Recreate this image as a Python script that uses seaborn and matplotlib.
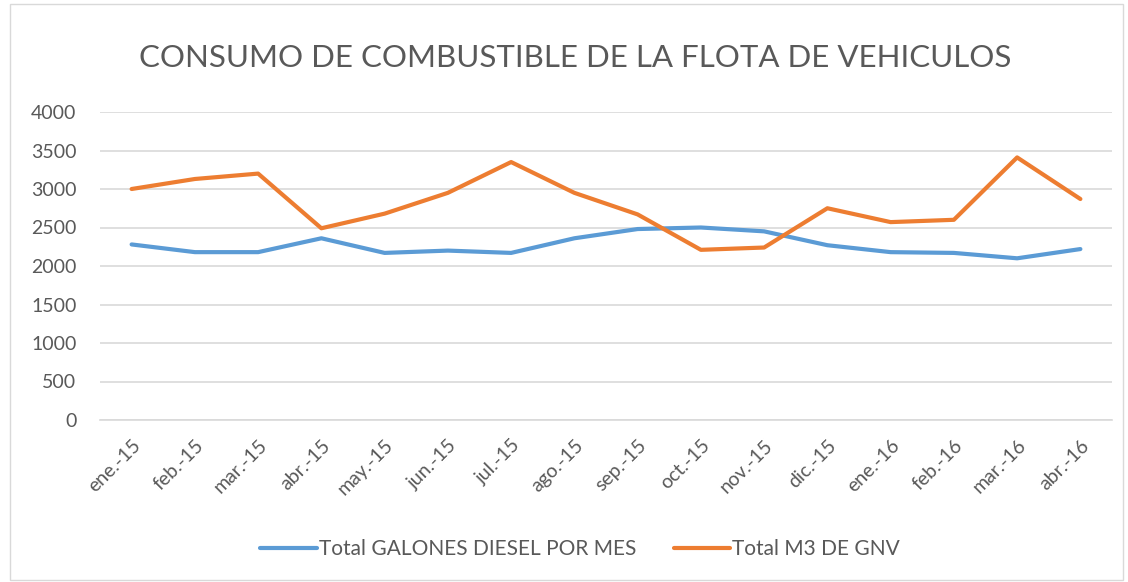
import pandas as pd
import matplotlib
matplotlib.use("Agg")
import matplotlib.pyplot as plt
import seaborn as sns
from matplotlib.patches import Rectangle
from matplotlib.ticker import FixedLocator

# Datos
meses = ['ene.-15', 'feb.-15', 'mar.-15', 'abr.-15', 'may.-15', 'jun.-15',
         'jul.-15', 'ago.-15', 'sep.-15', 'oct.-15', 'nov.-15', 'dic.-15',
         'ene.-16', 'feb.-16', 'mar.-16', 'abr.-16']
diesel = [2280, 2180, 2180, 2360, 2170, 2200, 2170, 2360,
          2480, 2500, 2450, 2270, 2180, 2170, 2100, 2220]
gnv = [3000, 3130, 3200, 2490, 2680, 2950, 3350, 2950,
       2670, 2210, 2240, 2750, 2570, 2600, 3410, 2870]
serie_diesel = 'Total GALONES DIESEL POR MES'
serie_gnv = 'Total M3 DE GNV'

COLORES = {serie_diesel: '#5B9BD5', serie_gnv: '#ED7D31'}
GRIS_TEXTO = '#595959'
GRIS_LINEA = '#D9D9D9'

df = pd.DataFrame({
    'mes': meses * 2,
    'valor': diesel + gnv,
    'serie': [serie_diesel] * len(meses) + [serie_gnv] * len(meses),
})

sns.set_style('white')
plt.rcParams['font.family'] = ['Lato', 'DejaVu Sans']

fig = plt.figure(figsize=(11.28, 5.82), dpi=100)
ax = fig.add_axes([100 / 1128, 1 - 420 / 582, 1012 / 1128, 308 / 582])

sns.lineplot(data=df, x='mes', y='valor', hue='serie', palette=COLORES,
             linewidth=3, ax=ax, sort=False, legend=False)

ax.set_xlim(-0.5, len(meses) - 0.5)
ax.set_ylim(0, 4000)
ax.set_yticks(range(0, 4001, 500))
ax.yaxis.grid(True, color=GRIS_LINEA, linewidth=1.2)
ax.set_axisbelow(True)
ax.set_xlabel('')
ax.set_ylabel('')

# marcas del eje x entre categorias (estilo Excel)
ax.set_xticks(range(len(meses)))
ax.set_xticklabels(meses, rotation=45, ha='right', rotation_mode='anchor')
ax.xaxis.set_minor_locator(FixedLocator([i - 0.5 for i in range(len(meses) + 1)]))
ax.tick_params(axis='x', which='major', length=0, pad=12, labelsize=14, labelcolor=GRIS_TEXTO)
ax.tick_params(axis='x', which='minor', length=6, color=GRIS_LINEA, width=1.2)
ax.tick_params(axis='y', length=0, pad=17, labelsize=14, labelcolor=GRIS_TEXTO)

for lado in ['top', 'right', 'left']:
    ax.spines[lado].set_visible(False)
ax.spines['bottom'].set_color(GRIS_LINEA)
ax.spines['bottom'].set_linewidth(1.2)

fig.text(575 / 1128, 1 - 58 / 582, 'CONSUMO DE COMBUSTIBLE DE LA FLOTA DE VEHICULOS',
         ha='center', va='center', fontsize=22.5, color=GRIS_TEXTO)

# leyenda
handles = [plt.Line2D([], [], color=COLORES[s], linewidth=3) for s in [serie_diesel, serie_gnv]]
fig.legend(handles, [serie_diesel, serie_gnv], loc='center', ncol=2,
           bbox_to_anchor=(580 / 1128, 1 - 549 / 582), frameon=False,
           handlelength=2.7, handletextpad=0.1, columnspacing=1.8,
           prop={'size': 15}, labelcolor=GRIS_TEXTO)

# borde exterior
fig.patches.append(Rectangle((10 / 1128, 2 / 582), 1113 / 1128, 576 / 582,
                             transform=fig.transFigure, fill=False,
                             edgecolor=GRIS_LINEA, linewidth=1))

fig.savefig('out.png', dpi=100)
